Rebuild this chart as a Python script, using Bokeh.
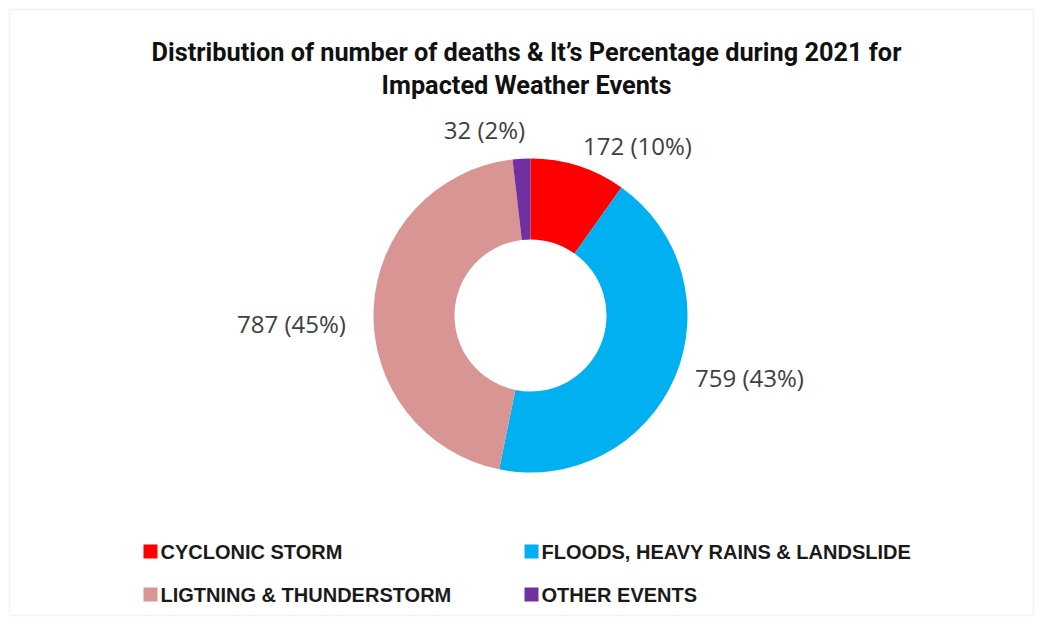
import numpy as np
from bokeh.plotting import figure
from bokeh.models import ColumnDataSource, Range1d, BoxAnnotation
from bokeh.core.properties import value
from bokeh.embed import file_html
from bokeh.resources import INLINE

# ---- data ----
categories = ["CYCLONIC STORM", "FLOODS, HEAVY RAINS & LANDSLIDE",
              "LIGTNING & THUNDERSTORM", "OTHER EVENTS"]
deaths = [172, 759, 787, 32]
colors = ["#FF0000", "#00B0F0", "#D99594", "#7030A0"]
title_lines = ["Distribution of number of deaths & It\u2019s Percentage during 2021 for",
               "Impacted Weather Events"]

# ---- layout (screen pixels, y measured from top) ----
W, H = 1041, 625
CX, CY = 530, 315
R_OUT, R_IN = 157, 76
label_dx = [107, 219, -239, -46]
label_dy = [-170, 62, 8, -186]
legend_x = [150, 531, 150, 531]
legend_y = [551, 551, 594, 594]

total = sum(deaths)
frac = np.array(deaths) / total
cum = np.concatenate([[0.0], np.cumsum(frac)])
start = np.pi / 2 - 2 * np.pi * cum[:-1]
end = np.pi / 2 - 2 * np.pi * cum[1:]
labels = [f"{d} ({round(f * 100)}%)" for d, f in zip(deaths, frac)]

p = figure(width=W, height=H, output_backend="svg", toolbar_location=None,
           x_range=Range1d(0, W), y_range=Range1d(0, H), min_border=0)
p.axis.visible = False
p.grid.visible = False
p.outline_line_color = None
p.background_fill_color = "white"
p.border_fill_color = "white"

p.add_layout(BoxAnnotation(left=9, right=1033, top=H - 9, bottom=H - 615,
                           fill_alpha=0, line_color="#d9d9d9", line_width=1.5))

src = ColumnDataSource(dict(
    x=[CX] * 4, y=[H - CY] * 4, start=start, end=end, color=colors,
    lx=[CX + dx for dx in label_dx], ly=[H - (CY + dy) for dy in label_dy],
    label=labels, cat=categories,
    gx=legend_x, gy=[H - y for y in legend_y],
    tx=[x + 10 for x in legend_x],
))

p.annular_wedge(x="x", y="y", inner_radius=R_IN, outer_radius=R_OUT,
                start_angle="start", end_angle="end", direction="clock",
                fill_color="color", line_color=None, source=src)

p.text(x="lx", y="ly", text="label", source=src, text_align="center",
       text_baseline="middle", text_font=value("Open Sans"),
       text_font_size="24px", text_color="#404040")

p.rect(x="gx", y="gy", width=14, height=14, fill_color="color",
       line_color=None, source=src)
p.text(x="tx", y="gy", text="cat", source=src, text_align="left",
       text_baseline="middle", text_font=value("Liberation Sans"),
       text_font_style="bold", text_font_size="20px", text_color="#1a1a1a")

tsrc = ColumnDataSource(dict(x=[526, 526], y=[H - 52, H - 85], t=title_lines))
p.text(x="x", y="y", text="t", source=tsrc, text_align="center",
       text_baseline="middle", text_font=value("Roboto"),
       text_font_style="bold", text_font_size="25.3px", text_color="#111111")

open("out.html", "w").write(file_html(p, INLINE))
